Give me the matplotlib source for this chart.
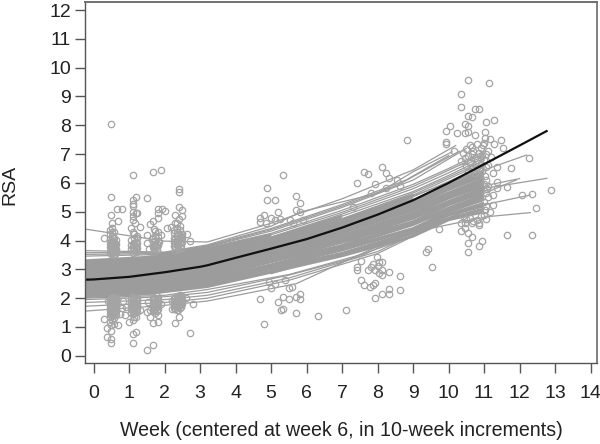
import matplotlib
matplotlib.use("Agg")
import matplotlib.pyplot as plt

# knots shared by the dense individual trajectories
week_knots = [-0.25, 1.5, 3.2, 5, 7, 9, 10, 11]

core_curves = [
    [2.05, 2.15, 2.40, 2.90, 3.47, 4.15, 4.72, 5.00],
    [2.10, 2.20, 2.46, 2.94, 3.52, 4.25, 4.78, 5.10],
    [2.15, 2.26, 2.51, 3.03, 3.56, 4.30, 4.88, 5.20],
    [2.21, 2.31, 2.57, 3.07, 3.67, 4.38, 4.91, 5.30],
    [2.26, 2.36, 2.62, 3.12, 3.72, 4.42, 5.00, 5.42],
    [2.31, 2.41, 2.68, 3.16, 3.78, 4.55, 5.08, 5.50],
    [2.36, 2.47, 2.74, 3.26, 3.83, 4.60, 5.13, 5.58],
    [2.41, 2.52, 2.79, 3.29, 3.94, 4.66, 5.24, 5.66],
    [2.47, 2.57, 2.85, 3.35, 3.98, 4.77, 5.30, 5.75],
    [2.52, 2.63, 2.91, 3.39, 4.05, 4.82, 5.36, 5.82],
    [2.57, 2.68, 2.96, 3.48, 4.10, 4.90, 5.47, 5.90],
    [2.62, 2.73, 3.02, 3.52, 4.18, 4.96, 5.52, 5.98],
    [2.67, 2.79, 3.08, 3.56, 4.27, 5.05, 5.60, 6.06],
    [2.73, 2.84, 3.13, 3.63, 4.32, 5.14, 5.66, 6.15],
    [2.78, 2.89, 3.19, 3.71, 4.38, 5.20, 5.77, 6.24],
    [2.83, 2.95, 3.25, 3.75, 4.43, 5.28, 5.82, 6.33],
    [2.88, 3.00, 3.30, 3.78, 4.52, 5.33, 5.90, 6.42],
]
# upper part of the band: each curve turns into a separate thin line at its own knot
upper_curves = [
    [2.94, 3.05, 3.36, 3.86, 4.60, 5.42, 5.96, 6.55],
    [2.99, 3.10, 3.42, 3.92, 4.65, 5.52, 6.05, 6.60],
    [3.04, 3.16, 3.47, 3.95, 4.72, 5.58, 6.14, 6.70],
    [3.09, 3.21, 3.53, 4.03, 4.76, 5.65, 6.20, 6.78],
    [3.15, 3.26, 3.59, 4.09, 4.85, 5.70, 6.26, 6.86],
    [3.20, 3.32, 3.64, 4.12, 4.92, 5.80, 6.35, 6.94],
    [3.25, 3.37, 3.70, 4.20, 4.98, 5.88, 6.44, 7.02],
    [3.30, 3.42, 3.75, 4.25, 5.05, 5.95, 6.50, 7.10],
]
upper_split = [5, 5, 5, 4, 4, 3, 3, 2]

# trajectories sitting outside the dense band, each with its own knots
fringe_x = [
    [-0.25, 2.0, 3.2, 5.0, 7.0, 9.0, 10.2],
    [-0.25, 2.0, 3.2, 5.0, 5.85, 8.0, 9.0, 10.1],
    [-0.25, 2.0, 3.2, 5.0, 7.0, 8.8, 10.0],
    [-0.25, 2.0, 3.2, 5.0, 7.0, 8.6, 10.3],
    [-0.25, 2.0, 3.2, 5.0, 7.0, 9.0, 10.5],
    [-0.25, 2.0, 3.2, 5.7, 8.8, 10.3],
    [-0.25, 2.0, 3.2, 5.5, 8.0, 10.0],
    [-0.25, 2.0, 3.2, 5.5, 8.0, 10.4],
    [-0.25, 2.0, 3.2, 5.5, 7.5, 9.5],
    [-0.25, 2.0, 3.2, 5.5, 7.5, 9.0],
    [5.0, 7.0, 9.0, 11.0, 12.77],
    [5.0, 7.0, 9.0, 11.0, 12.2],
    [5.0, 7.0, 9.0, 11.1, 12.3],
    [5.0, 7.0, 9.0, 11.1, 12.3],
    [5.0, 7.0, 9.0, 11.0, 11.9],
    [5.0, 7.0, 9.0, 11.2, 12.0],
]
fringe_y = [
    [4.40, 3.98, 3.95, 4.60, 5.45, 6.45, 7.30],
    [3.65, 3.60, 3.85, 4.50, 5.00, 5.64, 6.39, 7.08],
    [3.58, 3.58, 3.82, 4.42, 5.25, 6.10, 6.95],
    [3.52, 3.55, 3.80, 4.38, 5.20, 5.95, 7.10],
    [3.46, 3.52, 3.78, 4.33, 5.15, 6.10, 7.20],
    [1.55, 1.75, 1.90, 2.50, 4.25, 5.30],
    [1.72, 1.85, 2.00, 2.62, 3.55, 4.75],
    [1.85, 1.95, 2.10, 2.70, 3.62, 5.00],
    [1.95, 2.05, 2.20, 2.80, 3.45, 4.60],
    [2.00, 2.10, 2.30, 2.82, 3.50, 4.15],
    [3.05, 3.85, 4.80, 5.81, 6.16],
    [3.70, 4.60, 5.55, 6.45, 6.97],
    [3.00, 3.80, 4.65, 5.27, 5.58],
    [2.85, 3.55, 4.30, 4.83, 4.97],
    [3.35, 4.10, 4.95, 5.64, 6.10],
    [3.45, 4.25, 5.10, 5.95, 6.15],
]

# group mean trajectory
mean_x = [-0.25, 0, 1, 2, 3, 3.2, 4, 5, 6, 7, 8, 9, 10, 11, 12, 12.76]
mean_y = [2.64, 2.65, 2.74, 2.90, 3.09, 3.14, 3.40, 3.72, 4.05, 4.45, 4.90, 5.40, 6.00, 6.65, 7.30, 7.80]

# observed values, by assessment cluster
early_x = [0.49, 1.10, 1.68, 1.90, 2.40, 2.40, 0.49, 1.20, 1.10, 1.10, 1.50, 0.66, 0.79, 0.49, 0.68, 0.30,
           1.10, 1.10, 1.10, 1.18, 1.10, 1.16, 1.30, 1.22, 1.05, 1.12, 1.22,
           1.58, 1.68, 1.80, 1.80, 1.80, 1.92, 2.00, 1.70, 1.80, 1.90, 1.49, 1.49, 1.65, 1.72, 1.85, 1.55,
           2.50, 2.28, 2.50, 2.40, 2.30, 2.08, 2.19, 2.62, 2.72, 2.40]
early_y = [8.03, 6.27, 6.37, 6.44, 5.80, 5.67, 5.50, 5.52, 5.40, 5.28, 5.47, 5.10, 5.10, 4.87, 4.67, 4.10,
           5.20, 5.00, 4.85, 4.95, 4.70, 4.60, 4.47, 4.96, 4.45, 4.30, 4.15,
           4.58, 4.67, 4.79, 4.95, 5.08, 5.08, 5.02, 4.40, 4.30, 4.20, 4.20, 3.90, 4.05, 3.85, 3.95, 3.70,
           5.05, 4.87, 4.85, 4.75, 4.60, 4.42, 4.47, 4.24, 4.00, 5.15]
low_x = [0.49, 0.49, 0.38, 0.49, 0.38, 0.30, 0.68, 0.49, 0.75, 0.40,
         1.10, 1.10, 1.20, 1.00, 1.10, 1.20, 0.89, 0.80, 0.90, 0.82, 1.30,
         1.50, 1.68, 1.68, 1.80, 1.80, 1.58, 1.49, 1.60, 1.90, 1.52,
         2.30, 2.40, 2.72, 2.80, 2.22, 2.60, 2.20]
low_y = [0.43, 0.60, 0.64, 0.87, 0.95, 1.27, 1.08, 1.08, 1.45, 1.90,
         0.43, 0.74, 0.81, 1.16, 1.24, 1.36, 1.42, 1.65, 1.70, 1.90, 1.60,
         0.20, 0.37, 1.15, 1.19, 1.42, 1.36, 1.53, 1.60, 1.80, 1.85,
         1.15, 1.36, 0.78, 1.79, 1.63, 2.00, 1.90]
# tightly packed runs of observations at the four early assessment weeks
spike_weeks = [0.46, 0.52, 0.58, 0.64, 1.06, 1.14, 1.22, 1.66, 1.74, 1.82, 2.26, 2.34, 2.42, 2.50,
               0.49, 0.55, 0.61, 1.10, 1.18, 1.70, 1.78, 2.30, 2.38, 2.46]
spike_values = [
    [1.18, 1.34, 1.46, 1.58, 1.70, 1.82, 1.94, 3.62, 3.76, 3.90, 4.05, 4.22, 4.38],
    [1.25, 1.38, 1.50, 1.62, 1.74, 1.86, 1.98, 3.58, 3.70, 3.84, 3.98, 4.15, 4.30, 4.45, 4.60],
    [1.10, 1.30, 1.44, 1.56, 1.68, 1.80, 1.92, 3.55, 3.68, 3.80, 3.95, 4.10, 4.28],
    [1.40, 1.54, 1.66, 1.78, 1.90, 2.02, 3.60, 3.72, 3.88, 4.02],
    [1.50, 1.62, 1.74, 1.86, 1.98, 3.70, 3.86, 4.02],
    [1.35, 1.47, 1.60, 1.72, 1.84, 1.96, 3.72, 3.90, 4.08, 4.24],
    [1.52, 1.65, 1.78, 1.90, 2.02, 3.75, 3.92, 4.10],
    [1.58, 1.68, 1.80, 1.92, 2.04, 3.78, 3.94, 4.10],
    [1.50, 1.62, 1.74, 1.86, 1.98, 3.80, 3.98, 4.16, 4.34],
    [1.64, 1.76, 1.88, 2.00, 3.85, 4.00, 4.12],
    [1.66, 1.78, 1.90, 2.02, 3.80, 3.95, 4.10, 4.25, 4.38],
    [1.60, 1.72, 1.84, 1.96, 2.06, 3.85, 4.00, 4.15, 4.30, 4.45, 4.60],
    [1.65, 1.76, 1.88, 2.00, 2.10, 3.90, 4.05, 4.20, 4.36, 4.52],
    [1.80, 1.95, 2.08, 3.95, 4.10, 4.24],
    [1.40, 1.52, 1.60, 1.66, 1.76, 1.84, 1.90, 2.00, 3.52, 3.66, 3.74, 3.82, 3.92, 4.00],
    [1.44, 1.54, 1.64, 1.72, 1.80, 1.88, 1.96, 2.04, 3.50, 3.60, 3.72, 3.78, 3.88, 3.96, 4.08],
    [1.48, 1.58, 1.64, 1.74, 1.82, 1.90, 1.98, 3.54, 3.64, 3.76, 3.86],
    [1.44, 1.56, 1.66, 1.78, 1.88, 1.94, 2.04, 3.58, 3.66, 3.78, 3.88],
    [1.54, 1.64, 1.72, 1.82, 1.92, 2.00, 3.62, 3.70, 3.80, 3.96],
    [1.54, 1.62, 1.74, 1.84, 1.94, 2.02, 3.62, 3.72, 3.84],
    [1.56, 1.68, 1.76, 1.86, 1.96, 2.06, 3.66, 3.76, 3.88],
    [1.62, 1.72, 1.80, 1.90, 2.00, 3.68, 3.78, 3.92, 4.06],
    [1.58, 1.68, 1.78, 1.86, 1.94, 2.04, 3.70, 3.82, 3.94, 4.08, 4.22],
    [1.70, 1.82, 1.92, 2.04, 3.74, 3.86, 3.98, 4.12],
]
mid_x = [4.89, 4.89, 5.12, 5.19, 4.69, 4.81, 5.00, 4.70, 5.33, 5.70, 5.81, 5.70, 5.81, 5.91, 5.52, 5.61, 5.10, 5.25, 4.85,
         4.70, 4.81, 5.20, 5.28, 5.33, 5.49, 5.70, 5.81, 5.81, 5.51, 5.39, 5.33, 5.70, 4.95, 5.10, 5.60, 5.00, 6.31, 7.12]
mid_y = [5.83, 5.42, 5.42, 5.00, 4.78, 4.87, 4.78, 4.65, 6.27, 5.53, 5.32, 5.06, 4.98, 4.70, 4.73, 4.60, 4.70, 4.75, 4.60,
         1.97, 1.12, 1.88, 1.60, 2.03, 1.97, 2.03, 2.16, 1.97, 2.37, 2.63, 1.63, 1.48, 2.55, 2.50, 2.40, 2.35, 1.39, 1.60]
wk8_x = [8.84, 8.13, 8.23, 7.61, 7.74, 8.33, 8.54, 7.42, 7.92, 8.62, 8.24, 7.80, 7.32,
         7.42, 7.42, 7.54, 7.98, 8.05, 8.13, 7.73, 7.82, 7.92, 8.03, 8.13, 8.13, 8.33, 8.62, 7.54, 7.61,
         7.78, 7.92, 7.86, 8.33, 8.33, 8.13, 8.62, 7.92, 9.74, 9.43, 9.35, 9.54, 7.88, 8.00]
wk8_y = [7.49, 6.57, 6.34, 6.37, 6.31, 6.17, 6.10, 6.00, 5.96, 5.89, 5.82, 5.64, 5.17,
         3.09, 2.97, 3.28, 3.44, 3.25, 3.25, 2.97, 3.09, 2.97, 2.86, 2.97, 2.79, 2.92, 2.78, 2.62, 2.47,
         2.40, 2.53, 2.44, 2.33, 2.16, 2.16, 2.28, 2.00, 4.39, 3.70, 3.60, 3.08, 3.20, 3.10]
late_x = [10.54, 11.15, 10.35, 10.35, 10.73, 10.85, 10.54, 10.66, 11.27, 11.04, 10.45, 10.54, 10.04, 9.93, 10.23, 10.45,
          10.54, 10.73, 11.02, 11.02, 9.93, 9.93, 11.47, 11.27, 11.54, 11.16, 10.97, 10.16, 10.66, 12.27, 11.77, 11.35,
          11.26, 11.35, 11.35, 11.26, 11.65, 12.06, 12.35, 12.88, 12.46, 11.26, 11.16, 11.04, 10.85, 11.65, 12.35,
          10.35, 10.35, 10.47, 10.54, 10.66, 10.95, 10.85, 10.54, 10.54]
late_y = [9.59, 9.46, 9.09, 8.65, 8.58, 8.58, 8.34, 8.28, 8.20, 8.10, 8.03, 7.97, 7.97, 7.80, 7.74, 7.74,
          7.78, 7.66, 7.78, 7.55, 7.43, 7.35, 7.48, 7.35, 7.22, 7.51, 7.31, 7.12, 7.23, 6.88, 6.52, 6.56,
          6.33, 6.04, 5.81, 5.58, 5.87, 5.58, 5.61, 5.76, 5.12, 5.22, 5.00, 4.75, 4.60, 4.20, 4.20,
          4.60, 4.33, 4.42, 4.27, 4.11, 3.98, 3.80, 3.90, 3.59]
# crowded observations around the end of the band
pack_x = [10.40, 10.50, 10.60, 10.70, 10.80, 10.90, 11.00, 11.10, 10.45, 10.55, 10.65, 10.75, 10.85, 10.95, 11.05, 10.35,
          10.50, 10.60, 10.70, 10.80, 10.90, 11.00, 11.10, 11.20, 10.55, 10.65, 10.75, 10.85, 10.95, 11.05,
          11.02, 11.06, 11.00, 11.08, 11.04, 11.10, 11.00, 11.06, 11.12, 11.02,
          10.40, 10.50, 10.60, 10.70, 10.80, 10.90, 11.00, 10.45, 10.65, 10.85]
pack_y = [7.05, 7.18, 7.30, 7.12, 7.35, 7.20, 7.40, 7.10, 6.85, 6.95, 7.00, 6.88, 7.05, 6.92, 7.00, 6.75,
          6.60, 6.70, 6.55, 6.78, 6.65, 6.80, 6.62, 6.90, 6.40, 6.48, 6.35, 6.50, 6.42, 6.55,
          6.25, 6.10, 5.95, 5.80, 5.65, 5.50, 5.35, 5.20, 5.90, 5.05,
          4.85, 4.75, 4.80, 4.68, 4.72, 4.85, 4.88, 4.60, 4.62, 4.55]

x_ticks = list(range(0, 15))
y_ticks = list(range(0, 13))

plt.rcParams["font.family"] = ["Liberation Sans", "DejaVu Sans"]

band_color = "#9c9c9c"
axis_color = "#555555"
point_style = dict(ls="none", marker="o", ms=4.6, mfc="none", mec="#a4a4a4", mew=0.9)

fig = plt.figure(figsize=(6, 4.44), dpi=100)
ax = fig.add_axes([85.5 / 600, 1 - 363 / 444, 511.5 / 600, 361 / 444])

for curve in core_curves:
    ax.plot(week_knots, curve, color=band_color, lw=2.0, solid_capstyle="butt")
for curve, split in zip(upper_curves, upper_split):
    ax.plot(week_knots[:split + 1], curve[:split + 1], color=band_color, lw=2.0, solid_capstyle="butt")
    ax.plot(week_knots[split:], curve[split:], color=band_color, lw=0.9)
for xs, ys in zip(fringe_x, fringe_y):
    ax.plot(xs, ys, color=band_color, lw=0.9)

for xs, ys in [(early_x, early_y), (low_x, low_y), (mid_x, mid_y), (wk8_x, wk8_y), (late_x, late_y), (pack_x, pack_y)]:
    ax.plot(xs, ys, **point_style)
for week, values in zip(spike_weeks, spike_values):
    ax.plot([week] * len(values), values, **point_style)

ax.plot(mean_x, mean_y, color="#111111", lw=1.6)

ax.set_xlim(-0.23, 14.18)
ax.set_ylim(-0.25, 12.28)
ax.set_xticks(x_ticks)
ax.set_yticks(y_ticks)
ax.tick_params(axis="both", length=7.5, width=1, color=axis_color, labelsize=14, labelcolor="#222222")
ax.tick_params(axis="x", pad=8)
ax.tick_params(axis="y", pad=3)
for side in ax.spines.values():
    side.set_color(axis_color)
    side.set_linewidth(1)
ax.spines["right"].set_color("#808080")
ax.spines["right"].set_linewidth(1.4)
ax.spines["top"].set_color("#707070")
ax.spines["top"].set_linewidth(1.4)

fig.text(341 / 600, 1 - 430 / 444, "Week (centered at week 6, in 10-week increments)",
         ha="center", va="center", fontsize=14.1, color="#222222")
fig.text(10 / 600, 1 - 185 / 444, "RSA", rotation=90, ha="center", va="center", fontsize=14, color="#222222")

fig.savefig("out.png", dpi=100)
